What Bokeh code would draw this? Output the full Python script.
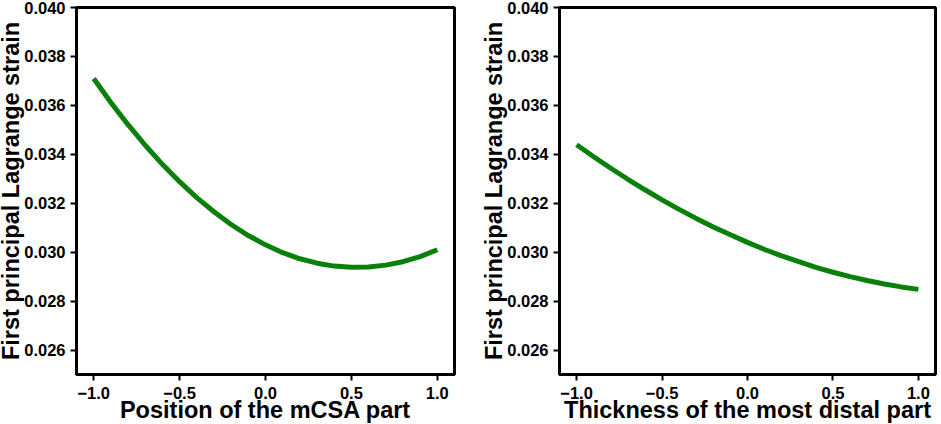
from bokeh.plotting import figure
from bokeh.layouts import row
from bokeh.models import FixedTicker, Range1d
from bokeh.embed import file_html
from bokeh.resources import INLINE

# Data
x_vals = [-1.0, -0.9, -0.8, -0.7, -0.6, -0.5, -0.4, -0.3, -0.2, -0.1, 0.0,
          0.1, 0.2, 0.3, 0.4, 0.5, 0.6, 0.7, 0.8, 0.9, 1.0]
strain_position = [0.03710, 0.03612, 0.03521, 0.03437, 0.03359, 0.03288, 0.03223,
                   0.03165, 0.03113, 0.03068, 0.03030, 0.02998, 0.02973, 0.02955,
                   0.02943, 0.02938, 0.02939, 0.02947, 0.02961, 0.02982, 0.03010]
strain_thickness = [0.03439, 0.03390, 0.03343, 0.03298, 0.03255, 0.03214, 0.03175,
                    0.03138, 0.03103, 0.03071, 0.03040, 0.03011, 0.02985, 0.02961,
                    0.02938, 0.02918, 0.02900, 0.02884, 0.02870, 0.02858, 0.02848]
x_ticks = [-1.0, -0.5, 0.0, 0.5, 1.0]
y_ticks = [0.026, 0.028, 0.030, 0.032, 0.034, 0.036, 0.038, 0.040]
x_titles = ["Position of the mCSA part", "Thickness of the most distal part"]
y_title = "First principal Lagrange strain"

FONT = "Liberation Sans"


def make_fig(xs, ys, xtitle, frame_w, border_right):
    p = figure(frame_width=frame_w, frame_height=367, output_backend="svg",
               toolbar_location=None,
               x_range=Range1d(-1.1, 1.1), y_range=Range1d(0.025, 0.040),
               min_border_left=10, min_border_right=border_right,
               min_border_top=7, min_border_bottom=0)
    p.line(xs, ys, line_color="#0a800a", line_width=5)
    p.xgrid.visible = False
    p.ygrid.visible = False
    p.outline_line_color = "black"
    p.outline_line_width = 3
    p.background_fill_color = "white"
    p.border_fill_color = "white"
    for ax in (p.xaxis[0], p.yaxis[0]):
        ax.axis_line_width = 3
        ax.axis_line_color = "black"
        ax.major_tick_line_width = 2
        ax.major_tick_line_color = "black"
        ax.major_tick_out = 6
        ax.major_tick_in = 0
        ax.minor_tick_line_color = None
        ax.major_label_text_font = FONT
        ax.major_label_text_font_style = "bold"
        ax.major_label_text_font_size = "16.5px"
        ax.major_label_text_color = "black"
        ax.axis_label_text_font = FONT
        ax.axis_label_text_font_style = "bold"
        ax.axis_label_text_font_size = "23.5px"
        ax.axis_label_text_color = "black"
    p.xaxis.ticker = FixedTicker(ticks=x_ticks)
    p.yaxis.ticker = FixedTicker(ticks=y_ticks)
    p.xaxis.major_label_overrides = {t: ("\u2212" + f"{abs(t):.1f}" if t < 0 else f"{t:.1f}") for t in x_ticks}
    p.yaxis.major_label_overrides = {t: f"{t:.3f}" for t in y_ticks}
    p.xaxis.axis_label = xtitle
    p.yaxis.axis_label = y_title
    p.xaxis.major_label_standoff = 6
    p.yaxis.major_label_standoff = 5
    p.xaxis.axis_label_standoff = -5
    p.yaxis.axis_label_standoff = -3
    return p


p1 = make_fig(x_vals, strain_position, x_titles[0], 378, 24)
p2 = make_fig(x_vals, strain_thickness, x_titles[1], 376, 4)
layout = row(p1, p2, spacing=0, styles={"margin-left": "-5px"})

open("out.html", "w").write(file_html(layout, INLINE))
